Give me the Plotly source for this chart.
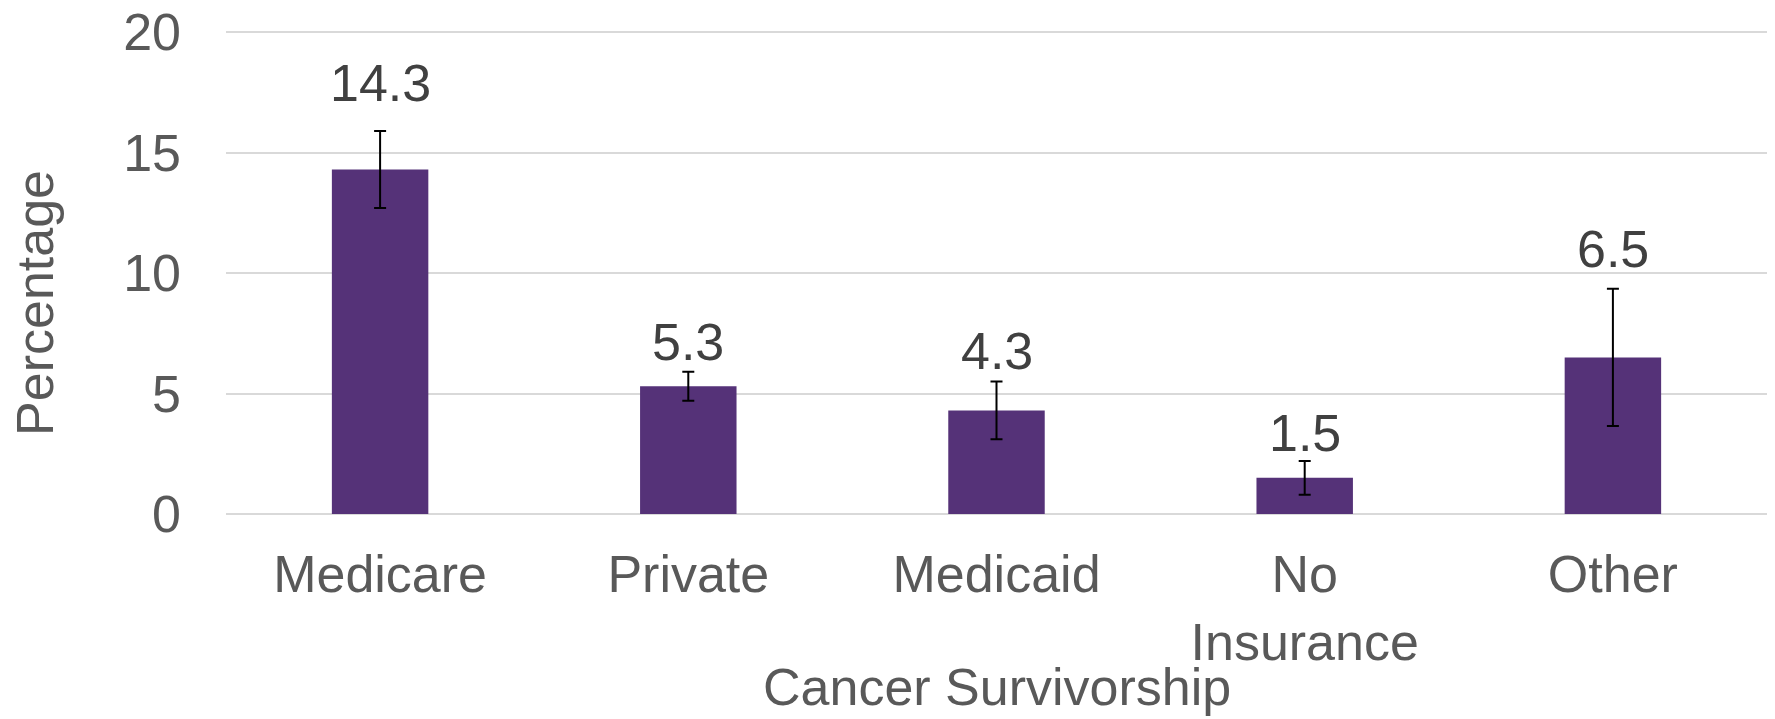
import plotly.graph_objects as go

categories = ["Medicare", "Private", "Medicaid", "No<br>Insurance", "Other"]
values = [14.3, 5.3, 4.3, 1.5, 6.5]
errors = [1.6, 0.6, 1.2, 0.7, 2.85]
value_labels = ["14.3", "5.3", "4.3", "1.5", "6.5"]
y_ticks = [0, 5, 10, 15, 20]

# styling: pixel shifts of the value labels above their bars
label_shift = [57, 14, 29, 15, 78]

FONT = "Liberation Sans, Arial, sans-serif"
GRAY = "#595959"

fig = go.Figure()
fig.add_trace(go.Bar(
    x=categories, y=values,
    marker=dict(color="#553278", line=dict(width=0)),
    width=0.313,
    error_y=dict(type="data", array=errors, visible=True,
                 color="black", thickness=2, width=6),
    hoverinfo="skip",
    cliponaxis=False,
))

for c, v, t, s in zip(categories, values, value_labels, label_shift):
    fig.add_annotation(x=c, y=v, xref="x", yref="y", text=t, showarrow=False,
                       yanchor="bottom", yshift=s, borderpad=0,
                       font=dict(family=FONT, size=52, color="#404040"))

fig.add_annotation(text="Cancer Survivorship", xref="paper", yref="paper",
                   x=0.5, y=0, yshift=-142, xanchor="center", yanchor="top",
                   showarrow=False, font=dict(family=FONT, size=52, color=GRAY))
fig.add_annotation(text="Percentage", xref="paper", yref="paper",
                   x=0, xshift=-191, y=0.437, textangle=-90,
                   xanchor="center", yanchor="middle",
                   showarrow=False, font=dict(family=FONT, size=52, color=GRAY))

fig.update_layout(
    width=1775, height=719,
    margin=dict(l=226, r=8, t=31, b=205, autoexpand=False),
    paper_bgcolor="white", plot_bgcolor="white",
    showlegend=False,
    font=dict(family=FONT, size=52, color=GRAY),
    bargap=0.687,
)
fig.update_xaxes(
    showgrid=False, showline=False, zeroline=False, automargin=False,
    tickfont=dict(family=FONT, size=52, color=GRAY),
    ticks="", ticklabelstandoff=25,
)
fig.update_yaxes(
    range=[0, 20.05], tickvals=y_ticks, showgrid=True, gridcolor="#d9d9d9",
    gridwidth=2, zeroline=True, zerolinecolor="#d9d9d9", zerolinewidth=2,
    showline=False, ticks="", ticklabelstandoff=44, automargin=False,
    tickfont=dict(family=FONT, size=52, color=GRAY),
)

fig.write_html("out.html", config={"displayModeBar": False},
               post_script="document.body.style.margin='0';document.body.style.overflow='hidden';")
